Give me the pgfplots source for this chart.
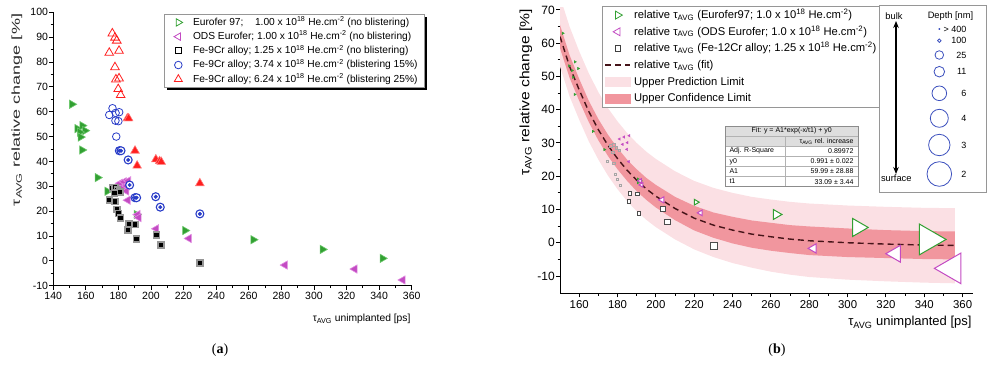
\documentclass[border=0pt]{standalone}
\usepackage{graphicx}
\usepackage{fontspec}
\setmainfont{Liberation Sans}
\newfontfamily\seriffont{Liberation Serif}
\usepackage{pgfplots}
\pgfplotsset{compat=1.18}
\usepackage{pgfplotstable}
\usetikzlibrary{arrows.meta,shadows}

\newcommand{\fs}[1]{\fontsize{#1bp}{#1bp}\selectfont}
\newcommand{\tauavg}{τ\textsubscript{AVG}}

\definecolor{grn}{RGB}{50,160,50}
\definecolor{grnL}{RGB}{110,200,110}
\definecolor{mag}{RGB}{195,75,195}
\definecolor{magL}{RGB}{225,140,225}
\definecolor{blu}{RGB}{40,60,200}
\definecolor{rd}{RGB}{255,30,30}
\definecolor{rdL}{RGB}{255,120,120}
\definecolor{sqgray}{RGB}{150,150,150}
\definecolor{predcol}{RGB}{251,224,228}
\definecolor{confcol}{RGB}{241,150,158}
\definecolor{fitline}{RGB}{70,20,25}
\definecolor{keyblue}{RGB}{60,80,190}
\definecolor{boxgray}{RGB}{150,150,150}
\definecolor{hdrgray}{RGB}{222,222,222}
\definecolor{labelgray}{RGB}{45,45,45}

% x = tau_AVG unimplanted [ps], y = relative change [%], r = marker radius (depth key, panel b)
\pgfplotstableread{
x y r
151.5 63.0 1.3
154.8 53.2 1.3
157.8 54.4 1.3
159.5 52.4 1.3
156.3 51.8 1.3
156.8 49.8 1.3
157.7 44.6 1.3
167.2 33.5 1.3
173.2 28.0 1.3
191.2 18.6 3.0
220.9 12.2 3.3
262.8 8.5 5.7
305.3 4.6 10.5
342.1 1.0 17.8
}\eurofer

\pgfplotstableread{
x y r
181.0 31.2 1.3
183.4 31.8 1.3
186.1 32.2 1.3
182.6 29.6 1.3
185.1 30.1 1.3
184.9 28.1 1.3
185.8 24.4 1.3
191.8 18.6 2.6
192.5 17.4 2.6
203.2 12.9 3.5
223.3 9.0 3.3
282.2 -1.7 5.4
325.0 -3.3 9.8
354.5 -7.7 17.8
}\odseurofer

\pgfplotstableread{
x y r
174.5 24.5 1.1
176.5 29.2 1.1
178.0 29.5 1.1
179.5 28.6 1.1
181.0 27.8 1.1
177.5 27.2 1.1
178.0 23.8 1.1
179.0 20.7 1.1
180.0 19.1 1.1
181.4 17.3 1.1
185.9 12.4 1.9
186.5 14.8 1.9
190.2 14.7 1.9
191.2 8.9 1.9
203.5 10.3 2.6
206.0 6.3 2.6
230.1 -0.9 3.7
}\fecrlow

\pgfplotstableread{
x y
174.4 58.7
176.4 61.4
178.3 59.5
180.5 59.8
178.2 56.4
180.0 56.2
178.7 50.0
}\fecrmidopen

\pgfplotstableread{
x y
180.6 44.3
181.6 44.3
186.0 40.6
186.9 30.5
190.2 25.4
191.2 25.4
202.9 25.8
205.7 21.6
230.0 18.9
}\fecrmidblist

\pgfplotstableread{
x y
176.3 91.5
177.9 89.8
179.0 88.6
174.4 83.7
180.4 84.5
177.9 77.9
178.5 73.0
180.4 73.4
179.9 69.1
181.4 66.7
}\fecrhighopen

\pgfplotstableread{
x y
185.5 57.3
186.3 57.3
190.2 44.3
191.5 38.3
203.0 40.8
205.3 40.1
206.3 39.8
230.0 31.2
}\fecrhighblist

% exponential decay fit
\pgfplotstableread{
x y
150 62.0
155 53.0
160 46.0
165 39.5
170 34.0
175 29.3
180 25.3
185 21.8
190 18.8
195 16.2
200 14.0
210 10.3
220 7.4
230 5.3
240 3.8
250 2.6
260 1.8
270 1.1
280 0.6
300 0.0
320 -0.4
340 -0.7
356 -0.8
}\fitcurve

% prediction band outline: upper limit forward, lower limit backward
\pgfplotstableread{
x y
150 74.0
155 65.0
160 57.6
165 51.0
170 45.3
175 40.5
180 36.5
185 33.0
190 30.0
195 27.4
200 25.2
210 21.5
220 18.6
230 16.5
240 15.0
250 13.8
260 13.0
270 12.3
280 11.8
300 11.2
320 10.8
340 10.5
356 10.4
356 -12.2
340 -12.0
320 -11.6
300 -11.1
280 -10.3
270 -9.6
260 -8.7
250 -7.5
240 -6.1
230 -4.3
220 -2.0
210 1.0
200 4.7
195 6.9
190 9.5
185 12.5
180 16.1
175 20.2
170 25.0
165 30.5
160 37.0
155 44.0
150 53.0
}\predpoly

% confidence band outline: upper limit forward, lower limit backward
\pgfplotstableread{
x y
150 65.5
155 56.4
160 49.3
165 42.7
170 37.2
175 32.5
180 28.5
185 25.0
190 22.1
195 19.5
200 17.4
210 13.8
220 11.1
230 9.1
240 7.8
250 6.7
260 6.0
270 5.3
280 4.9
300 4.3
320 3.8
340 3.5
356 3.4
356 -5.0
340 -4.9
320 -4.6
300 -4.3
280 -3.7
270 -3.1
260 -2.4
250 -1.5
240 -0.2
230 1.5
220 3.7
210 6.8
200 10.6
195 12.9
190 15.5
185 18.6
180 22.1
175 26.1
170 30.8
165 36.3
160 42.7
155 49.6
150 58.5
}\confpoly

\begin{document}
\begin{tikzpicture}
\useasboundingbox (0,0) rectangle (989bp,376bp);

%% ---------------- panel (a) ----------------
\begin{axis}[
  at={(53.2bp,90.3bp)}, anchor=south west,
  scale only axis, width=358.5bp, height=273.4bp,
  xmin=140, xmax=360, ymin=-10, ymax=100,
  axis x line*=bottom, axis y line*=left,
  axis line style={line width=0.8bp},
  xtick={140,160,...,360}, ytick={-10,0,...,100},
  minor x tick num=1, minor y tick num=1,
  tick align=outside, major tick length=4bp, minor tick length=2.5bp,
  every tick/.style={line width=0.8bp, black},
  /pgf/number format/assume math mode=true,
  ticklabel style={font=\fs{10.5}},
  xticklabel style={inner ysep=2.5bp},
  yticklabel style={inner xsep=1bp},
  legend cell align=left,
  legend image code/.code={\path (0bp,-1bp) (20.8bp,1bp);
    \draw[mark repeat=2,mark phase=2,#1] plot coordinates {(0bp,0bp) (10.4bp,0bp) (20.8bp,0bp)};},
  legend style={at={(0.31,0.9927)}, anchor=north west, draw=boxgray, line width=0.6bp,
    fill=white, font=\fs{10.2}, inner xsep=3bp, inner ysep=2.5bp, row sep=3.5bp,
    nodes={inner xsep=4bp, inner ysep=0bp, text height=8.2bp, text depth=2.5bp},
    general shadow={fill=black, shadow xshift=2.5bp, shadow yshift=-2.5bp}},
]
\addplot[only marks, mark=triangle*, mark size=4.8bp, forget plot,
  mark options={rotate=-90, fill=grn, draw=grnL, line width=0.6bp}] table[x=x,y=y] {\eurofer};
\addplot[only marks, mark=triangle*, mark size=4.8bp, forget plot,
  mark options={rotate=90, fill=mag, draw=magL, line width=0.6bp}] table[x=x,y=y] {\odseurofer};
\addplot[only marks, mark=square*, mark size=3bp, forget plot,
  mark options={fill=black, draw=sqgray, line width=1.6bp}] table[x=x,y=y] {\fecrlow};
\addplot[only marks, mark=o, mark size=3.8bp, forget plot,
  mark options={draw=blu, line width=0.8bp}] table[x=x,y=y] {\fecrmidopen};
\addplot[only marks, mark=*, mark size=4bp, forget plot,
  mark options={fill=white, draw=blu, line width=1.1bp}] table[x=x,y=y] {\fecrmidblist};
\addplot[only marks, mark=*, mark size=1.8bp, forget plot,
  mark options={fill=blu, draw=blu}] table[x=x,y=y] {\fecrmidblist};
\addplot[only marks, mark=triangle, mark size=5bp, forget plot,
  mark options={draw=rd, line width=0.8bp}] table[x=x,y=y] {\fecrhighopen};
\addplot[only marks, mark=triangle*, mark size=5bp, forget plot,
  mark options={fill=rd, draw=rdL, line width=0.6bp}] table[x=x,y=y] {\fecrhighblist};

\addlegendimage{only marks, mark=triangle, mark size=4.3bp, mark options={rotate=-90, draw=grn, line width=0.8bp}}
\addlegendentry{\makebox[62bp][l]{Eurofer 97;}1.00 x 10\textsuperscript{18} He.cm\textsuperscript{-2} (no blistering)}
\addlegendimage{only marks, mark=triangle, mark size=4.3bp, mark options={rotate=90, draw=mag, line width=0.8bp}}
\addlegendentry{ODS Eurofer; 1.00 x 10\textsuperscript{18} He.cm\textsuperscript{-2} (no blistering)}
\addlegendimage{only marks, mark=square, mark size=3bp, mark options={draw=black, line width=0.7bp}}
\addlegendentry{Fe-9Cr alloy; 1.25 x 10\textsuperscript{18} He.cm\textsuperscript{-2} (no blistering)}
\addlegendimage{only marks, mark=o, mark size=3.8bp, mark options={draw=blu, line width=0.8bp}}
\addlegendentry{Fe-9Cr alloy; 3.74 x 10\textsuperscript{18} He.cm\textsuperscript{-2} (blistering 15\%)}
\addlegendimage{only marks, mark=triangle, mark size=4.6bp, mark options={draw=rd, line width=0.8bp}}
\addlegendentry{Fe-9Cr alloy; 6.24 x 10\textsuperscript{18} He.cm\textsuperscript{-2} (blistering 25\%)}
\end{axis}

%% ---------------- panel (b) ----------------
\begin{axis}[
  at={(560bp,82.7bp)}, anchor=south west,
  scale only axis, width=413bp, height=285.3bp,
  xmin=150, xmax=365.4, ymin=-15.2, ymax=70.6,
  axis x line*=bottom, axis y line*=left,
  axis line style={line width=1bp},
  xtick={160,180,...,360}, ytick={-10,0,...,70},
  minor x tick num=1, minor y tick num=1,
  tick align=outside, major tick length=4bp, minor tick length=2.5bp,
  every tick/.style={line width=1bp, black},
  /pgf/number format/assume math mode=true,
  xticklabel style={font=\fs{11.4}, inner ysep=3bp},
  yticklabel style={font=\fs{12}, inner xsep=1bp},
  legend cell align=left,
  legend image code/.code={\path (0bp,-1bp) (25bp,1bp);
    \draw[mark repeat=2,mark phase=2,#1] plot coordinates {(0bp,0bp) (12.7bp,0bp) (25bp,0bp)};},
  legend style={at={(0.1017,1.007)}, anchor=north west, draw=boxgray, line width=0.7bp,
    fill=white, font=\fs{11.2}, inner xsep=2bp, inner ysep=2bp, row sep=3.2bp,
    nodes={inner xsep=3.3bp, inner ysep=0bp, text height=10bp, text depth=3.5bp}},
]
\addplot[fill=predcol, draw=none, forget plot] table[x=x,y=y] {\predpoly};
\addplot[fill=confcol, draw=none, forget plot] table[x=x,y=y] {\confpoly};
\addplot[fitline, line width=1.4bp, dash pattern=on 6bp off 4bp, forget plot] table[x=x,y=y] {\fitcurve};

% bulk points (depth > 400 nm)
\addplot[only marks, mark=triangle*, mark size=1.5bp, forget plot, restrict x to domain=140:180,
  mark options={rotate=-90, fill=grn, draw=grn, line width=0.3bp}] table[x=x,y=y] {\eurofer};
\addplot[only marks, mark=triangle*, mark size=1.5bp, forget plot, restrict x to domain=140:188,
  mark options={rotate=90, fill=mag, draw=mag, line width=0.3bp}] table[x=x,y=y] {\odseurofer};
\addplot[only marks, mark=square, mark size=1.1bp, forget plot, restrict x to domain=140:183,
  mark options={draw=black!35, line width=0.5bp}] table[x=x,y=y] {\fecrlow};

% near-surface points, marker size growing as the depth decreases
\addplot[scatter, only marks, mark=triangle*, forget plot, restrict x to domain=180:400,
  scatter/use mapped color={draw=grn, fill=white},
  mark options={rotate=-90, line width=1bp},
  visualization depends on={\thisrow{r}\as\msz},
  scatter/@pre marker code/.append style={/tikz/mark size=\msz pt}] table[x=x,y=y] {\eurofer};
\addplot[scatter, only marks, mark=triangle*, forget plot, restrict x to domain=188:400,
  scatter/use mapped color={draw=mag, fill=white},
  mark options={rotate=90, line width=1bp},
  visualization depends on={\thisrow{r}\as\msz},
  scatter/@pre marker code/.append style={/tikz/mark size=\msz pt}] table[x=x,y=y] {\odseurofer};
\addplot[scatter, only marks, mark=square*, forget plot, restrict x to domain=183:400,
  scatter/use mapped color={draw=black!70, fill=white},
  mark options={line width=0.8bp},
  visualization depends on={\thisrow{r}\as\msz},
  scatter/@pre marker code/.append style={/tikz/mark size=\msz pt}] table[x=x,y=y] {\fecrlow};

\addlegendimage{only marks, mark=triangle, mark size=4.6bp, mark options={rotate=-90, draw=grn, line width=0.8bp}}
\addlegendentry{relative \tauavg{} (Eurofer97; 1.0 x 10\textsuperscript{18} He.cm\textsuperscript{-2})}
\addlegendimage{only marks, mark=triangle, mark size=4.6bp, mark options={rotate=90, draw=mag, line width=0.8bp}}
\addlegendentry{relative \tauavg{} (ODS Eurofer; 1.0 x 10\textsuperscript{18} He.cm\textsuperscript{-2})}
\addlegendimage{only marks, mark=square, mark size=2.8bp, mark options={draw=black!75, line width=0.8bp}}
\addlegendentry{relative \tauavg{} (Fe-12Cr alloy; 1.25 x 10\textsuperscript{18} He.cm\textsuperscript{-2})}
\addlegendimage{fitline, line width=1.4bp, dash pattern=on 6bp off 4bp}
\addlegendentry{relative \tauavg{} (fit)}
\addlegendimage{legend image code/.code={\fill[predcol] (0bp,-4.5bp) rectangle (25bp,4.5bp);}}
\addlegendentry{Upper Prediction Limit}
\addlegendimage{legend image code/.code={\fill[confcol] (0bp,-4.5bp) rectangle (25bp,4.5bp);}}
\addlegendentry{Upper Confidence Limit}
\end{axis}

%% ---------------- labels, fit table and depth key ----------------
\begin{axis}[
  at={(0bp,0bp)}, anchor=south west,
  scale only axis, width=989bp, height=376bp,
  xmin=0, xmax=989, ymin=0, ymax=376, y dir=reverse,
  hide axis, clip=false,
]
% axis titles
\node[rotate=90, font=\fs{11.5}, text=labelgray] at (17,110) {\scalebox{1.57}[1]{\tauavg{} relative change [\%]}};
\node[anchor=east, font=\fs{10.3}] at (414,319) {\tauavg{} unimplanted [ps]};
\node[rotate=90, font=\fs{13.5}] at (526,92.5) {\scalebox{1.16}[1]{\tauavg{} relative change [\%]}};
\node[anchor=east, font=\fs{13}] at (975,322.4) {\tauavg{} unimplanted [ps]};
\node[font=\seriffont\fs{14}] at (220,350) {(\textbf{a})};
\node[font=\seriffont\fs{14}] at (777,350) {(\textbf{b})};

% fit result table
\fill[white] (725,126) rectangle (858.3,186.7);
\fill[hdrgray] (725,126) rectangle (858.3,146);
\draw[black!30, line width=0.5bp] (725,136) -- (858.3,136) (725,146) -- (858.3,146)
  (725,156.2) -- (858.3,156.2) (725,166.4) -- (858.3,166.4) (725,176.6) -- (858.3,176.6)
  (785.7,136) -- (785.7,186.7);
\draw[black!45, line width=0.6bp] (725,126) rectangle (858.3,186.7);
\node[font=\fs{7}] at (791.7,131) {Fit: y = A1*exp(-x/t1) + y0};
\node[font=\fs{7}, anchor=east] at (857,141) {\tauavg{} rel. increase};
\node[font=\fs{7}, anchor=west] at (726,151.1) {Adj. R-Square};
\node[font=\fs{7}, anchor=west] at (726,161.3) {y0};
\node[font=\fs{7}, anchor=west] at (726,171.5) {A1};
\node[font=\fs{7}, anchor=west] at (726,181.6) {t1};
\node[font=\fs{7}, anchor=east] at (857,151.1) {0.89972};
\node[font=\fs{7}, anchor=east] at (857,161.3) {0.991 ± 0.022};
\node[font=\fs{7}, anchor=east] at (857,171.5) {59.99 ± 28.88};
\node[font=\fs{7}, anchor=east] at (857,181.6) {33.09 ± 3.44};

% depth key
\draw[boxgray, line width=0.7bp, fill=white] (879,5) rectangle (986,192.3);
\node[font=\fs{9.3}] at (894,16.5) {bulk};
\node[font=\fs{9.3}] at (896.3,178.5) {surface};
\node[font=\fs{9.3}] at (950.5,16.3) {Depth [nm]};
\draw[{Stealth[length=7bp,width=5.5bp]}-{Stealth[length=7bp,width=5.5bp]}, line width=1.2bp] (896,21) -- (896,174);
\addplot[only marks, mark=*, mark size=0.7bp, keyblue] coordinates {(939.3,29)};
\addplot[only marks, mark=o, mark size=1.7bp, keyblue, line width=0.8bp] coordinates {(939.3,40.7)};
\addplot[only marks, mark=o, mark size=4.3bp, keyblue, line width=0.8bp] coordinates {(939.3,55)};
\addplot[only marks, mark=o, mark size=5.3bp, keyblue, line width=0.8bp] coordinates {(939.3,71.7)};
\addplot[only marks, mark=o, mark size=7.3bp, keyblue, line width=0.8bp] coordinates {(939.3,93.3)};
\addplot[only marks, mark=o, mark size=9bp, keyblue, line width=0.8bp] coordinates {(939.3,118.3)};
\addplot[only marks, mark=o, mark size=10.7bp, keyblue, line width=0.8bp] coordinates {(939.3,145)};
\addplot[only marks, mark=o, mark size=12.3bp, keyblue, line width=0.8bp] coordinates {(939.3,174)};
\node[font=\fs{9}, anchor=east] at (970,29) {> 400};
\node[font=\fs{9}, anchor=east] at (970,40.7) {100};
\node[font=\fs{9}, anchor=east] at (970,55) {25};
\node[font=\fs{9}, anchor=east] at (970,71.7) {11};
\node[font=\fs{9}, anchor=east] at (970,93.3) {6};
\node[font=\fs{9}, anchor=east] at (970,118.3) {4};
\node[font=\fs{9}, anchor=east] at (970,145) {3};
\node[font=\fs{9}, anchor=east] at (970,174) {2};
\end{axis}
\end{tikzpicture}
\end{document}
